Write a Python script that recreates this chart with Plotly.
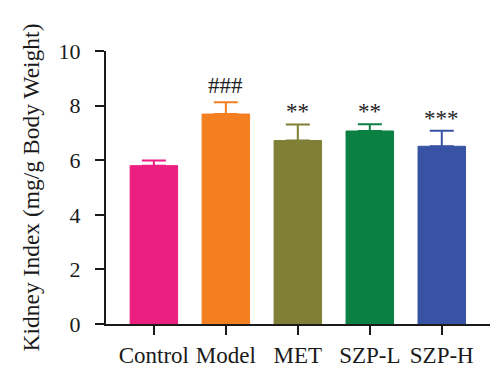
import plotly.graph_objects as go

categories = ["Control", "Model", "MET", "SZP-L", "SZP-H"]
means = [5.80, 7.69, 6.72, 7.07, 6.51]
errors_up = [0.19, 0.43, 0.59, 0.25, 0.57]
significance = ["", "###", "**", "**", "***"]
colors = ["#EC1F80", "#F47F21", "#7F7F35", "#0B8043", "#3953A4"]
y_ticks = [0, 2, 4, 6, 8, 10]

SERIF = "Liberation Serif, Times New Roman, serif"

fig = go.Figure()
for cat, m, e, c in zip(categories, means, errors_up, colors):
    fig.add_trace(go.Bar(
        x=[cat], y=[m], width=0.66,
        marker=dict(color=c, line=dict(color=c, width=1)),
        error_y=dict(type="data", array=[e], arrayminus=[0], symmetric=False,
                     color=c, thickness=2, width=12),
        showlegend=False,
    ))

for cat, m, e, s in zip(categories, means, errors_up, significance):
    if s:
        shift = 2 if s.startswith("#") else -2
        fig.add_annotation(x=cat, y=m + e, text=s, showarrow=False,
                           yanchor="bottom", yshift=shift,
                           font=dict(family=SERIF, size=23, color="#222"))

fig.update_layout(
    width=500, height=373,
    margin=dict(l=98, r=18, t=43, b=57),
    paper_bgcolor="white", plot_bgcolor="white",
    barmode="overlay",
    font=dict(family=SERIF, size=23, color="#1a1a1a"),
)
fig.update_xaxes(
    range=[-0.665, 4.67], showline=True, linecolor="#1a1a1a", linewidth=2,
    ticks="outside", ticklen=9, tickwidth=2, tickcolor="#1a1a1a",
    showgrid=False, tickfont=dict(size=23), zeroline=False,
)
fig.update_yaxes(
    range=[0, 10], tickvals=y_ticks, showline=True, linecolor="#1a1a1a",
    linewidth=2, ticks="outside", ticklen=9, tickwidth=2, tickcolor="#1a1a1a",
    showgrid=False, zeroline=False, tickfont=dict(size=22), ticklabelstandoff=10,
    title=dict(text="Kidney Index (mg/g Body Weight)", font=dict(size=23.5), standoff=12),
)

fig.write_html("out.html")
